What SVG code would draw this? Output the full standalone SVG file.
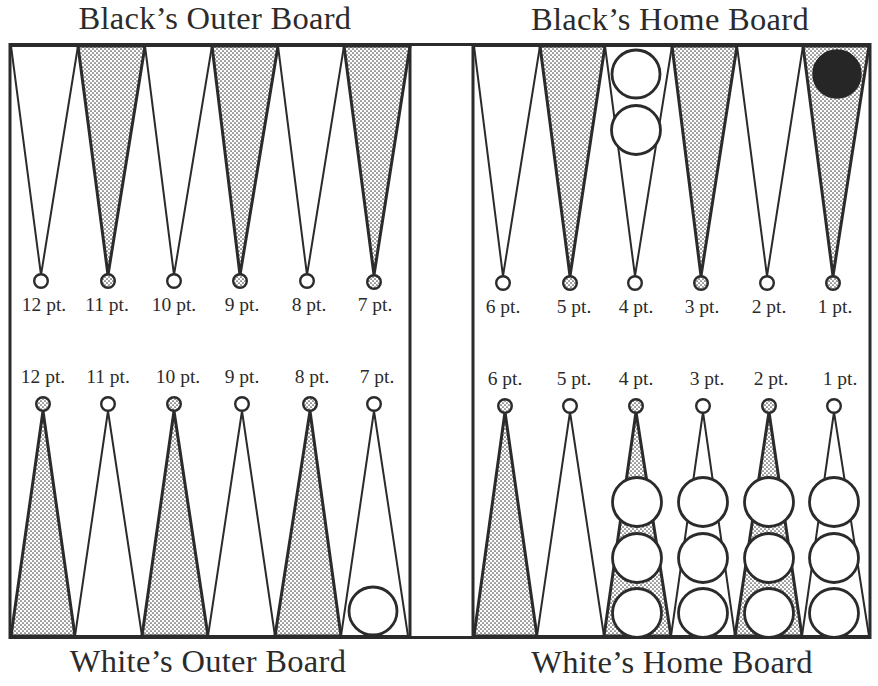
<svg xmlns="http://www.w3.org/2000/svg" width="878" height="686" viewBox="0 0 878 686">
<style>
.pt{fill:#fff;stroke:#2b2b2b;stroke-width:2;stroke-linejoin:miter}
.sh{fill:url(#dots);stroke-width:3}
.ap{stroke-width:2.4}
.ck{fill:#fff;stroke:#2b2b2b;stroke-width:2.8}
.bk{fill:#262626;stroke:#262626;stroke-width:1.5}
.frame{fill:none;stroke:#2b2b2b;stroke-width:3}
.lbl{font-family:"Liberation Serif","Times New Roman",serif;font-size:19.5px;fill:#2b2b2b;text-anchor:middle}
.ttl{font-family:"Liberation Serif","Times New Roman",serif;font-size:32.5px;letter-spacing:0.3px;fill:#2b2b2b;text-anchor:middle}
</style>
<defs>
<pattern id="dots" width="4" height="4" patternUnits="userSpaceOnUse">
<rect width="4" height="4" fill="#fff"/>
<circle cx="1" cy="1" r="0.85" fill="#4a4a4a"/>
<circle cx="3" cy="3" r="0.85" fill="#4a4a4a"/>
</pattern>
</defs>
<rect width="878" height="686" fill="#fff"/>

<g id="titles">
<text class="ttl" x="215" y="29">Black’s Outer Board</text>
<text class="ttl" x="670" y="30">Black’s Home Board</text>
<text class="ttl" x="208" y="672">White’s Outer Board</text>
<text class="ttl" x="672" y="673">White’s Home Board</text>
</g>

<!-- top row (Black's side) -->
<g id="top-12"><polygon class="pt" points="11,46 78,46 41,275"/><circle class="pt ap" cx="41" cy="281" r="6.8"/><text class="lbl" x="44" y="311">12 pt.</text></g>
<g id="top-11"><polygon class="pt sh" points="78,46 145,46 108,275"/><circle class="pt sh ap" cx="108" cy="281" r="6.8"/><text class="lbl" x="107" y="311">11 pt.</text></g>
<g id="top-10"><polygon class="pt" points="145,46 212,46 174,275"/><circle class="pt ap" cx="174" cy="281" r="6.8"/><text class="lbl" x="174" y="311">10 pt.</text></g>
<g id="top-9"><polygon class="pt sh" points="212,46 278,46 240,275"/><circle class="pt sh ap" cx="240" cy="281" r="6.8"/><text class="lbl" x="242" y="311">9 pt.</text></g>
<g id="top-8"><polygon class="pt" points="278,46 344,46 307,275"/><circle class="pt ap" cx="307" cy="281" r="6.8"/><text class="lbl" x="309" y="311">8 pt.</text></g>
<g id="top-7"><polygon class="pt sh" points="344,46 410,46 374,275"/><circle class="pt sh ap" cx="374" cy="282" r="6.8"/><text class="lbl" x="375" y="311">7 pt.</text></g>

<g id="top-6"><polygon class="pt" points="474,46 540,46 503,276"/><circle class="pt ap" cx="503" cy="283" r="6.8"/><text class="lbl" x="503" y="313">6 pt.</text></g>
<g id="top-5"><polygon class="pt sh" points="540,46 605,46 570,276"/><circle class="pt sh ap" cx="570" cy="283" r="6.8"/><text class="lbl" x="574" y="313">5 pt.</text></g>
<g id="top-4"><polygon class="pt" points="605,46 672,46 635,276"/><circle class="pt ap" cx="635" cy="283" r="6.8"/><text class="lbl" x="636" y="313">4 pt.</text>
<circle class="ck" cx="636" cy="74" r="24"/><circle class="ck" cx="636" cy="130" r="24.5"/></g>
<g id="top-3"><polygon class="pt sh" points="672,46 737,46 701,276"/><circle class="pt sh ap" cx="701" cy="283" r="6.8"/><text class="lbl" x="702" y="313">3 pt.</text></g>
<g id="top-2"><polygon class="pt" points="737,46 803,46 767,276"/><circle class="pt ap" cx="767" cy="283" r="6.8"/><text class="lbl" x="769" y="313">2 pt.</text></g>
<g id="top-1"><polygon class="pt sh" points="803,46 869,46 833,276"/><circle class="pt sh ap" cx="833" cy="283" r="6.8"/><text class="lbl" x="835" y="313">1 pt.</text>
<circle class="bk" cx="837" cy="74" r="24"/></g>

<!-- bottom row (White's side) -->
<g id="bottom-12"><polygon class="pt sh" points="11,636 75,636 43,411"/><circle class="pt sh ap" cx="43" cy="404" r="6.8"/><text class="lbl" x="43" y="383">12 pt.</text></g>
<g id="bottom-11"><polygon class="pt" points="75,636 142,636 108,411"/><circle class="pt ap" cx="108" cy="404" r="6.8"/><text class="lbl" x="108" y="383">11 pt.</text></g>
<g id="bottom-10"><polygon class="pt sh" points="142,636 208,636 174,411"/><circle class="pt sh ap" cx="174" cy="404" r="6.8"/><text class="lbl" x="178" y="383">10 pt.</text></g>
<g id="bottom-9"><polygon class="pt" points="208,636 275,636 242,411"/><circle class="pt ap" cx="242" cy="404" r="6.8"/><text class="lbl" x="242" y="383">9 pt.</text></g>
<g id="bottom-8"><polygon class="pt sh" points="275,636 341,636 310,411"/><circle class="pt sh ap" cx="310" cy="404" r="6.8"/><text class="lbl" x="312" y="383">8 pt.</text></g>
<g id="bottom-7"><polygon class="pt" points="341,636 408,636 374,411"/><circle class="pt ap" cx="374" cy="404" r="6.8"/><text class="lbl" x="377" y="383">7 pt.</text>
<circle class="ck" cx="373" cy="611" r="24"/></g>

<g id="bottom-6"><polygon class="pt sh" points="474,636 537,636 505,412"/><circle class="pt sh ap" cx="505" cy="406" r="6.8"/><text class="lbl" x="505" y="385">6 pt.</text></g>
<g id="bottom-5"><polygon class="pt" points="537,636 604,636 570,412"/><circle class="pt ap" cx="570" cy="406" r="6.8"/><text class="lbl" x="574" y="385">5 pt.</text></g>
<g id="bottom-4"><polygon class="pt sh" points="604,636 671,636 636,412"/><circle class="pt sh ap" cx="636" cy="406" r="6.8"/><text class="lbl" x="636" y="385">4 pt.</text>
<circle class="ck" cx="637" cy="502" r="24.5"/><circle class="ck" cx="637" cy="558" r="24.5"/><circle class="ck" cx="637" cy="613" r="24.5"/></g>
<g id="bottom-3"><polygon class="pt" points="671,636 735,636 703,412"/><circle class="pt ap" cx="703" cy="406" r="6.8"/><text class="lbl" x="707" y="385">3 pt.</text>
<circle class="ck" cx="703" cy="502" r="24.5"/><circle class="ck" cx="703" cy="558" r="24.5"/><circle class="ck" cx="703" cy="613" r="24.5"/></g>
<g id="bottom-2"><polygon class="pt sh" points="735,636 802,636 769,412"/><circle class="pt sh ap" cx="769" cy="406" r="6.8"/><text class="lbl" x="771" y="385">2 pt.</text>
<circle class="ck" cx="769" cy="502" r="24.5"/><circle class="ck" cx="769" cy="558" r="24.5"/><circle class="ck" cx="769" cy="613" r="24.5"/></g>
<g id="bottom-1"><polygon class="pt" points="802,636 869,636 834,412"/><circle class="pt ap" cx="834" cy="406" r="6.8"/><text class="lbl" x="840" y="385">1 pt.</text>
<circle class="ck" cx="834" cy="502" r="24.5"/><circle class="ck" cx="834" cy="558" r="24.5"/><circle class="ck" cx="834" cy="613" r="24.5"/></g>

<g id="board">
<rect class="frame" x="10" y="44.5" width="860" height="593"/>
<line class="frame" x1="410" y1="44.5" x2="410" y2="637.5"/>
<line class="frame" x1="473" y1="44.5" x2="473" y2="637.5"/>
</g>
</svg>
